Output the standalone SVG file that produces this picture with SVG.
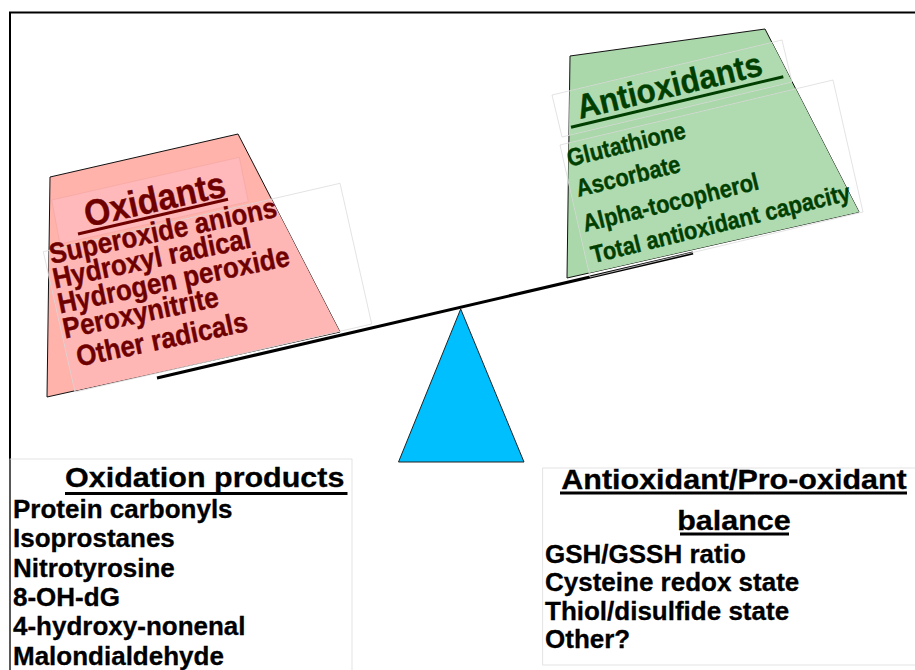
<svg xmlns="http://www.w3.org/2000/svg" width="915" height="670" viewBox="0 0 915 670">
<style>
text { font-family: "Liberation Sans", Arial, sans-serif; font-weight: bold; }
.pk { fill: #6e0000; stroke: #6e0000; stroke-width: 0.4; }
.gr { fill: #003f00; stroke: #003f00; stroke-width: 0.4; }
.bk { fill: #000; stroke: #000; stroke-width: 0.3; }
.box { fill: none; stroke: #dcdcdc; stroke-width: 0.8; }
.ul { stroke-width: 3; fill: none; }
</style>
<defs>
<clipPath id="clipPink"><polygon points="50,177 238,134 340,332 47,397"/></clipPath>
<clipPath id="clipGreen"><polygon points="570,56 765,29 859,212 567,278"/></clipPath>
</defs>
<rect width="915" height="670" fill="#fff"/>
<g id="frame">
<polyline points="10,670 10,12.5 915,12.5" fill="none" stroke="#000" stroke-width="2"/>
</g>

<g id="connectors">
<line id="beam" x1="157" y1="378" x2="693" y2="253" stroke="#000" stroke-width="3"/>
</g>

<g id="fulcrum">
<polygon points="460.7,309 398.5,462 524,462" fill="#00bfff" stroke="#222" stroke-width="1"/>
</g>

<g id="oxidants">
<polygon points="50,177 238,134 340,332 47,397" fill="#ffb3ab" stroke="#111" stroke-width="1"/>
<g clip-path="url(#clipPink)">
<polygon points="51.7,200 239.3,157.3 248.3,201.7 60,244" fill="#ffb9bb" stroke="#f3a5a0" stroke-width="0.6"/>
<polygon points="43.3,251.7 340,183.3 371.7,324 75,392" fill="#ffb7b6" stroke="#f3a5a0" stroke-width="0.6"/>
</g>
<polygon class="box" points="43.3,251.7 340,183.3 371.7,324 75,392"/>
<line class="ul" x1="78" y1="234" x2="228" y2="199.3" stroke="#6e0000"/>
<text class="pk" font-size="36.5" transform="translate(87.3,227) rotate(-12.5) scale(0.92,1)">Oxidants</text>
<text class="pk" font-size="28.8" transform="translate(51.5,264) rotate(-11.8) scale(0.9,1)">Superoxide anions</text>
<text class="pk" font-size="28.8" transform="translate(55,288.5) rotate(-11.8) scale(0.9,1)">Hydroxyl radical</text>
<text class="pk" font-size="28.8" transform="translate(60,313.5) rotate(-11.8) scale(0.9,1)">Hydrogen peroxide</text>
<text class="pk" font-size="28.8" transform="translate(65,338.5) rotate(-11.8) scale(0.9,1)">Peroxynitrite</text>
<text class="pk" font-size="28.8" transform="translate(78.5,366.5) rotate(-11.8) scale(0.9,1)">Other radicals</text>
</g>

<g id="antioxidants">
<polygon points="570,56 765,29 859,212 567,278" fill="#aad8aa" stroke="#111" stroke-width="1"/>
<g clip-path="url(#clipGreen)">
<polygon points="552,95 782,40 792,82 562,137" fill="#b0dbb0" stroke="#9ccc9c" stroke-width="0.6"/>
<polygon points="560,145 833,80 863,212 590,277" fill="#b0dbb0" stroke="#9ccc9c" stroke-width="0.6"/>
</g>
<polygon class="box" points="552,95 782,40 792,82 562,137"/>
<polygon class="box" points="560,145 833,80 863,212 590,277"/>
<line class="ul" x1="571" y1="127.3" x2="783.3" y2="76.7" stroke="#003f00"/>
<text class="gr" font-size="34" transform="translate(580,119) rotate(-13.5) scale(0.92,1)">Antioxidants</text>
<text class="gr" font-size="24.5" transform="translate(569.3,166.7) rotate(-13.8) scale(0.89,1)">Glutathione</text>
<text class="gr" font-size="24.5" transform="translate(578.3,197) rotate(-13.8) scale(0.89,1)">Ascorbate</text>
<text class="gr" font-size="24.5" transform="translate(585,232) rotate(-13.8) scale(0.89,1)">Alpha-tocopherol</text>
<text class="gr" font-size="24.5" transform="translate(593.3,263.3) rotate(-13.8) scale(0.89,1)">Total antioxidant capacity</text>
</g>

<g id="oxidation-products">
<rect class="box" x="10" y="459" width="342" height="215"/>
<line class="ul" x1="65" y1="493.5" x2="347.5" y2="493.5" stroke="#000" stroke-width="2.5"/>
<g transform="translate(65,0) scale(1.07,1)">
<text class="bk" font-size="28.5" x="0" y="487">Oxidation products</text>
</g>
<g transform="translate(13,0) scale(1.04,1)">
<text class="bk" font-size="25" x="0" y="518">Protein carbonyls</text>
<text class="bk" font-size="25" x="0" y="547.5">Isoprostanes</text>
<text class="bk" font-size="25" x="0" y="577">Nitrotyrosine</text>
<text class="bk" font-size="25" x="0" y="606">8-OH-dG</text>
<text class="bk" font-size="25" x="0" y="635.5">4-hydroxy-nonenal</text>
<text class="bk" font-size="25" x="0" y="665">Malondialdehyde</text>
</g>
</g>

<g id="balance">
<rect class="box" x="542.7" y="468" width="380" height="197"/>
<line class="ul" x1="560" y1="493" x2="907" y2="493" stroke="#000" stroke-width="2.5"/>
<line class="ul" x1="680" y1="534" x2="789" y2="534" stroke="#000" stroke-width="2.5"/>
<g transform="translate(734,0) scale(1.07,1)">
<text class="bk" font-size="28.5" x="0" y="489" text-anchor="middle">Antioxidant/Pro-oxidant</text>
<text class="bk" font-size="28.5" x="0" y="530" text-anchor="middle">balance</text>
</g>
<g transform="translate(545,0) scale(1.04,1)">
<text class="bk" font-size="25" x="0" y="563">GSH/GSSH ratio</text>
<text class="bk" font-size="25" x="0" y="591.5">Cysteine redox state</text>
<text class="bk" font-size="25" x="0" y="620">Thiol/disulfide state</text>
<text class="bk" font-size="25" x="0" y="648.5">Other?</text>
</g>
</g>
</svg>
